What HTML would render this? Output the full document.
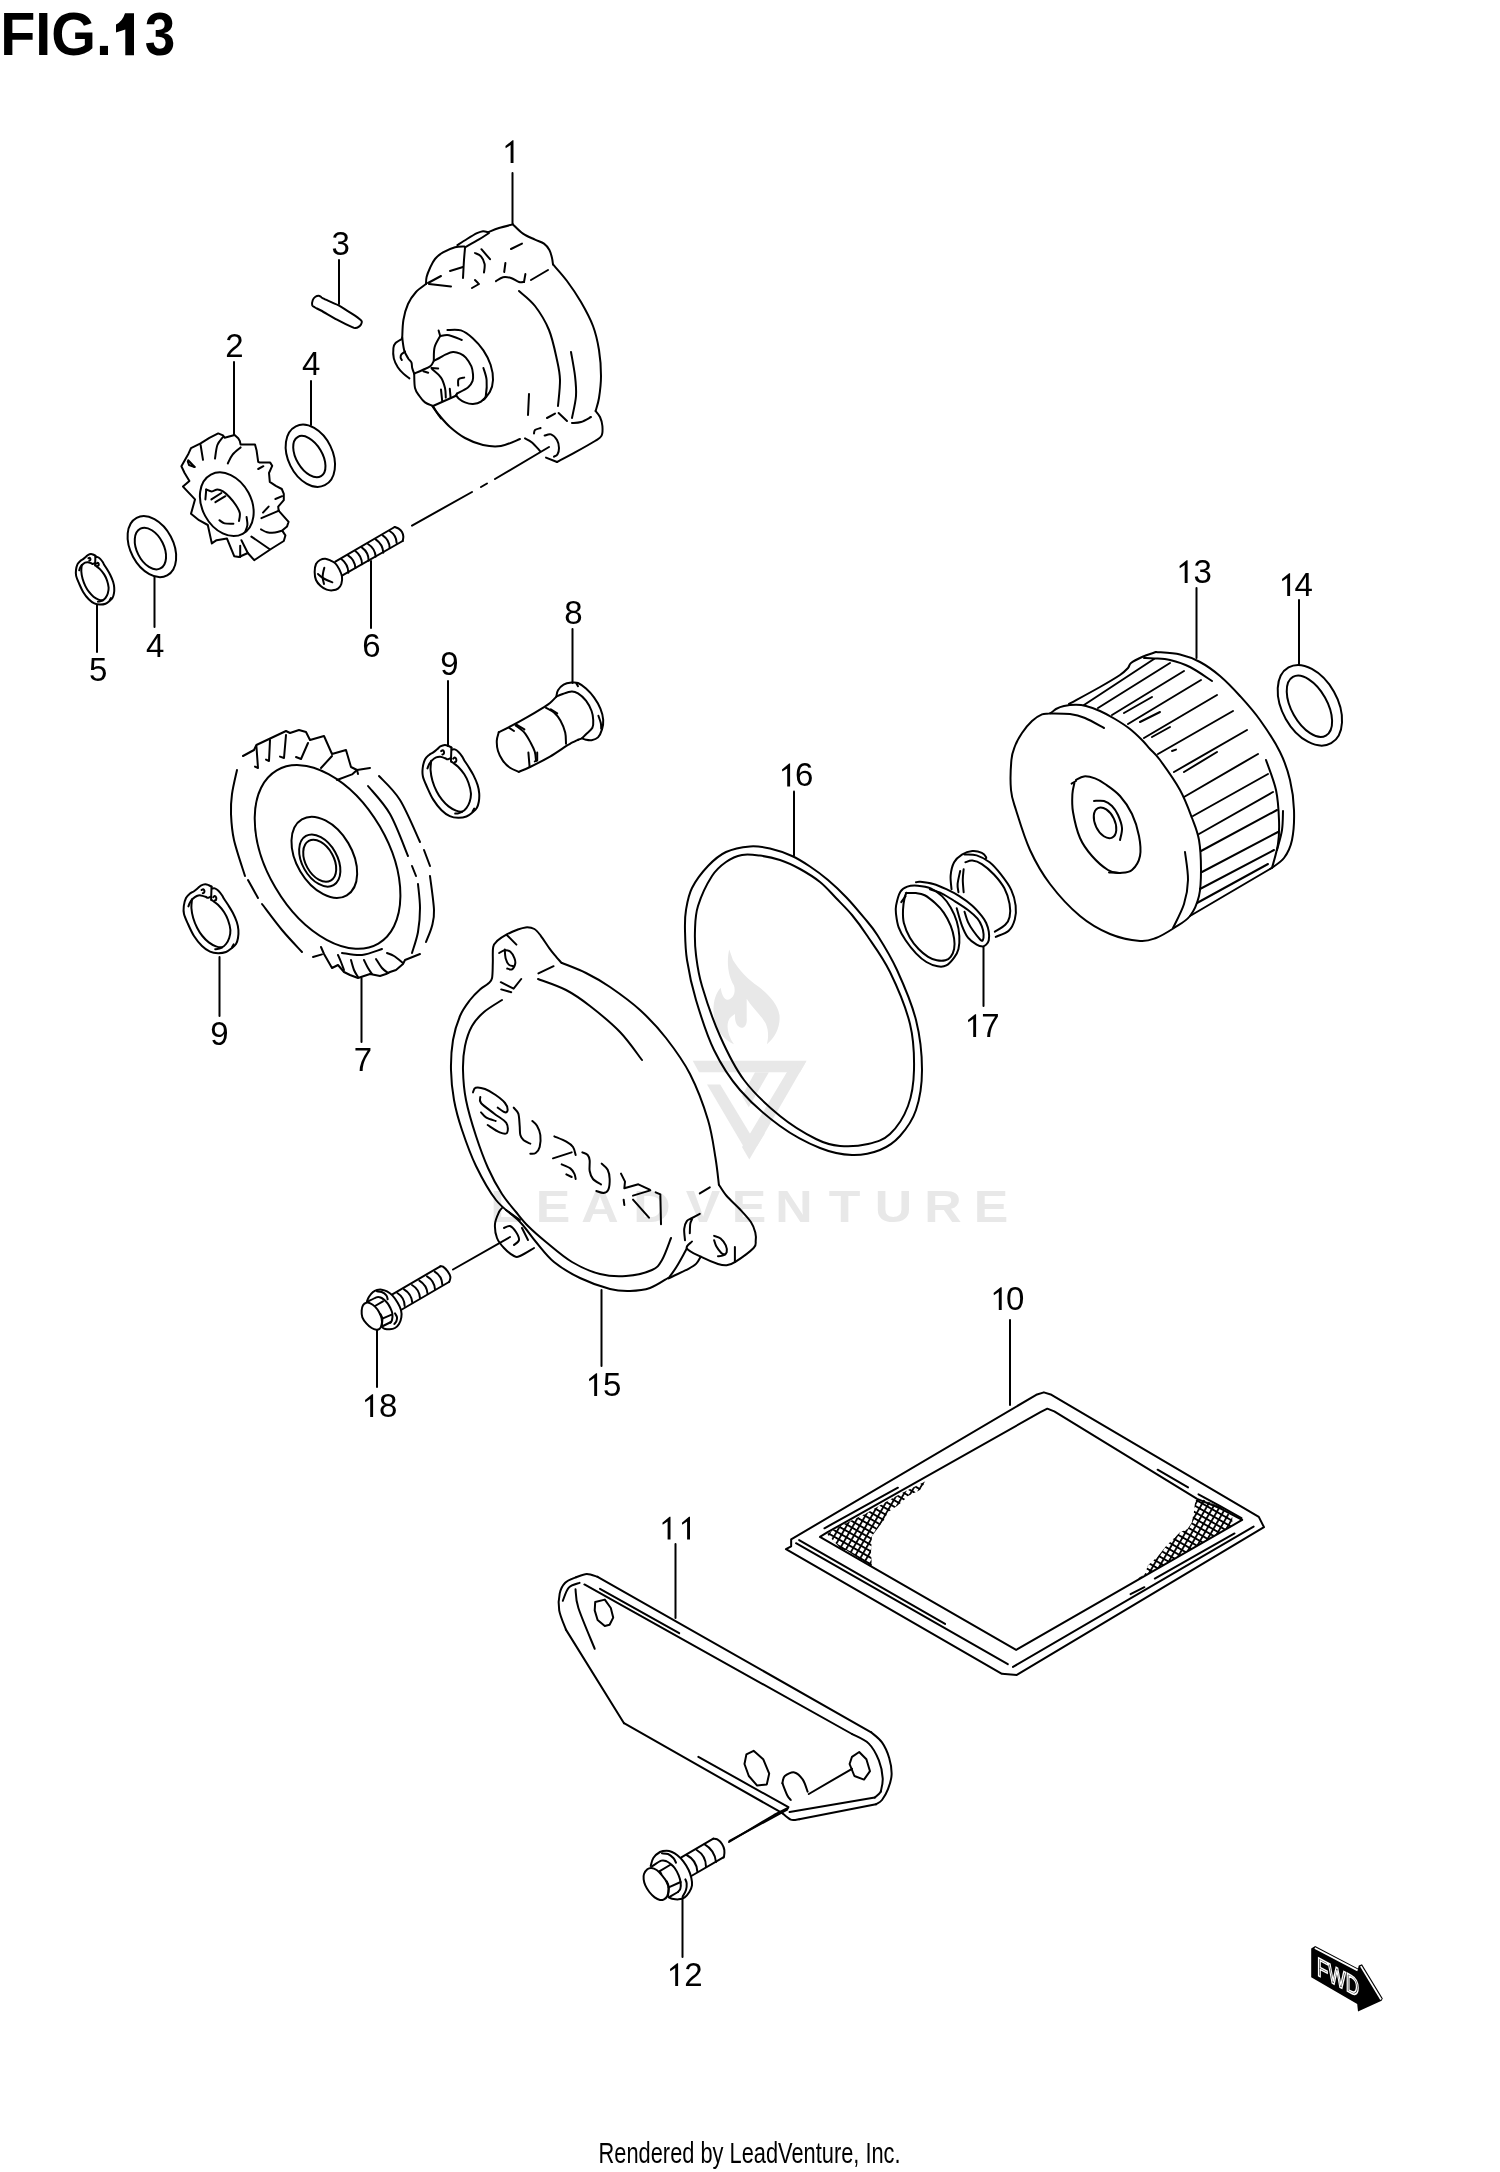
<!DOCTYPE html>
<html><head><meta charset="utf-8"><title>FIG.13</title><style>
html,body{margin:0;padding:0;background:#fff;overflow:hidden}
svg{display:block;will-change:transform}
.s path,.s ellipse,.s line{fill:none;stroke:#000;stroke-width:2;stroke-linecap:round;stroke-linejoin:round;vector-effect:non-scaling-stroke}
text{font-family:"Liberation Sans",sans-serif;fill:#000}
.lb{font-size:33px}
</style></head><body>
<svg width="1500" height="2172" viewBox="0 0 1500 2172">
<defs><pattern id="mesh" patternUnits="userSpaceOnUse" width="5.6" height="5.6" patternTransform="rotate(30)"><path d="M0,0.9H5.6M0.9,0V5.6" stroke="#000" stroke-width="1.8" fill="none"/></pattern></defs>
<rect width="1500" height="2172" fill="#fff"/>
<g transform="translate(680,940) scale(0.105854)" fill="#e8e8e8"><path d="M465,90 C440,200 450,330 510,430 C530,500 500,560 450,565 C410,560 390,500 385,450 C320,520 300,640 330,770 C360,880 430,950 510,985 C450,900 430,800 470,740 C490,720 510,705 520,700 C515,760 530,820 580,830 C620,830 635,790 630,730 L630,555 C680,640 760,700 810,790 C840,860 835,930 820,985 C900,920 950,820 940,710 C920,600 840,520 740,440 C640,370 560,290 500,190 Z"/></g><g fill="#e8e8e8"><path d="M692.7,1060.7 806.5,1060.7 800,1072.3 699,1072.3Z"/><path d="M806.5,1060.7 749.3,1159.6 742,1147 787,1072Z"/><path d="M707,1084.5 720.2,1084.5 752,1137 745,1149Z"/><path d="M755,1072.3 768.9,1072.3 748.8,1107.2 742,1096Z"/><path d="M758.3,1122.1 764.7,1133.7 757,1146 751,1135Z"/></g><text transform="scale(1.15,1)" font-size="45" font-weight="bold" style="fill:#e8e8e8" text-anchor="middle"><tspan x="440" y="1222">L</tspan><tspan x="480.9" y="1222">E</tspan><tspan x="521.7" y="1222">A</tspan><tspan x="567" y="1222">D</tspan><tspan x="611.3" y="1222">V</tspan><tspan x="651.3" y="1222">E</tspan><tspan x="690.4" y="1222">N</tspan><tspan x="734.3" y="1222">T</tspan><tspan x="777" y="1222">U</tspan><tspan x="820" y="1222">R</tspan><tspan x="861.7" y="1222">E</tspan></text>
<g class="s"><path d="M512.5,173 512.5,224"/><path d="M339,260 339,304"/><path d="M234,362 234,435"/><path d="M311,381 311,425"/><path d="M154.5,577 154.5,627"/><path d="M97,605 97,652"/><path d="M371,561 371,628"/><path d="M448,681 448,746"/><path d="M572.5,629 572.5,683"/><path d="M219.5,957 219.5,1016"/><path d="M361.5,978 361.5,1042"/><path d="M794,791.6 794,855.6"/><path d="M983.5,947 983.5,1006"/><path d="M1196.5,588 1196.5,658"/><path d="M1299,600 1299,665"/><path d="M1010,1320 1010,1405"/><path d="M601.5,1290 601.5,1366"/><path d="M377,1330 377,1387"/><path d="M675.5,1544 675.5,1618"/><path d="M682.5,1898 682.5,1957"/></g><g class="s" transform="translate(375,200) scale(0.200000)"><path d="M255,420C255.5,414.2 254.7,398.3 258,385C261.3,371.7 268,355 275,340C282,325 289.2,308 300,295C310.8,282 323.3,271.8 340,262C356.7,252.2 382.2,241 400,236C417.8,231 439.2,232.7 447,232"/><path d="M412,226C420,220.8 443.7,205 460,195C476.3,185 496.7,172.5 510,166C523.3,159.5 530.7,156.8 540,156C549.3,155.2 561.7,160.2 566,161"/><path d="M566,161C575,157.5 599.3,146.5 620,140C640.7,133.5 678.3,125 690,122"/><path d="M690,122C698.3,129.7 721.7,155.3 740,168C758.3,180.7 782.5,189.7 800,198C817.5,206.3 833,209.3 845,218C857,226.7 865.3,238 872,250C878.7,262 882,278 885,290C888,302 889.2,316.7 890,322"/><path d="M890,322C901.7,335.8 936.7,373.7 960,405C983.3,436.3 1008.3,472.5 1030,510C1051.7,547.5 1075,590 1090,630C1105,670 1113.3,708.3 1120,750C1126.7,791.7 1130,840 1130,880C1130,920 1124.5,960.8 1120,990C1115.5,1019.2 1105.8,1044.2 1103,1055"/><path d="M1103,1055C1106.7,1060 1119.3,1072.5 1125,1085C1130.7,1097.5 1135.7,1114.5 1137,1130C1138.3,1145.5 1139.2,1165.5 1133,1178C1126.8,1190.5 1122.2,1191 1100,1205C1077.8,1219 1031.7,1244.5 1000,1262C968.3,1279.5 925,1302 910,1310"/><path d="M910,1310 855,1288"/><path d="M848,1178C853.3,1177 869.7,1168.3 880,1172C890.3,1175.7 903.3,1188.7 910,1200C916.7,1211.3 919.7,1228 920,1240C920.3,1252 916.2,1264.8 912,1272C907.8,1279.2 897.8,1281.2 895,1283"/><path d="M750,1192C755.8,1195.3 772.5,1201.5 785,1212C797.5,1222.5 818.3,1247.8 825,1255"/><path d="M725,1195C709.2,1200.8 660.8,1225 630,1230C599.2,1235 570,1231.7 540,1225C510,1218.3 477.5,1205 450,1190C422.5,1175 396.7,1154.2 375,1135C353.3,1115.8 335,1092.8 320,1075C305,1057.2 290.8,1035.8 285,1028"/><path d="M255,420C246.7,426.7 220,443.3 205,460C190,476.7 175.5,496.7 165,520C154.5,543.3 146.8,571.7 142,600C137.2,628.3 137,675 136,690"/><path d="M450,236C461.7,229.5 500,208.8 520,197C540,185.2 561.7,170.3 570,165"/><path d="M450,240C449.2,250 446.7,275 445,300C443.3,325 440.8,375 440,390"/><path d="M265,415 330,380"/><path d="M375,355 440,335"/><path d="M270,420 380,432"/><path d="M485,440 520,420"/><path d="M500,400 515,415"/><path d="M500,265C505,267.8 522,272.8 530,282C538,291.2 545.5,306.7 548,320C550.5,333.3 545.5,355 545,362"/><path d="M532,246 575,296"/><path d="M680,245 735,218"/><path d="M652,315 646,360"/><path d="M605,406C610.8,402.7 627.5,388.7 640,386C652.5,383.3 666.7,386 680,390C693.3,394 709.2,406.7 720,410C730.8,413.3 740.8,410 745,410"/><path d="M745,410 752,370"/><path d="M780,400 865,350"/><path d="M720,455C733.3,467.5 775,497.5 800,530C825,562.5 851.7,605 870,650C888.3,695 900.8,758.3 910,800C919.2,841.7 924.2,861.7 925,900C925.8,938.3 916.7,1008.3 915,1030"/><path d="M980,760C983.3,780 995.8,843.3 1000,880C1004.2,916.7 1007.5,945 1005,980C1002.5,1015 988.3,1071.7 985,1090"/><path d="M770,970 765,1075"/><path d="M860,1090 900,1068"/><path d="M918,1065 960,1105"/><path d="M985,1115C992.5,1114.2 1014.2,1115 1030,1110C1045.8,1105 1071.7,1089.2 1080,1085"/><path d="M795,1168C795.8,1165 794.5,1154.7 800,1150C805.5,1145.3 823.3,1141.7 828,1140"/></g><g class="s" transform="translate(385,320) scale(0.080000)"><path d="M215,220C219.2,246.7 227.5,336.7 240,380C252.5,423.3 275,455 290,480C305,505 321.7,510 330,530C338.3,550 334.2,576.7 340,600C345.8,623.3 360.8,658.3 365,670"/><path d="M215,235C200.8,244.2 148.3,270.8 130,290C111.7,309.2 108.3,318.3 105,350C101.7,381.7 100.8,440 110,480C119.2,520 140,558.3 160,590C180,621.7 205.8,646.7 230,670C254.2,693.3 292.5,720 305,730"/><path d="M250,395C242.5,400.8 214.2,417.5 205,430C195.8,442.5 194.2,458.3 195,470C195.8,481.7 207.5,495 210,500"/><path d="M365,670C366.7,700 364.2,803.3 375,850C385.8,896.7 409.2,920 430,950C450.8,980 471.7,1009.2 500,1030C528.3,1050.8 583.3,1067.5 600,1075"/><path d="M365,670C382.5,662.5 435.8,640.8 470,625C504.2,609.2 546.7,594.2 570,575C593.3,555.8 603.3,520.8 610,510"/><path d="M610,510C621.7,504.2 655,488.3 680,475C705,461.7 731.7,442.5 760,430C788.3,417.5 820,401.7 850,400C880,398.3 913.3,408.3 940,420C966.7,431.7 986.7,443.3 1010,470C1033.3,496.7 1065,545 1080,580C1095,615 1097.5,650 1100,680C1102.5,710 1105,733.3 1095,760C1085,786.7 1072.5,813.3 1040,840C1007.5,866.7 923.3,906.7 900,920"/><path d="M900,920L880,950"/><path d="M600,1075 880,950"/><path d="M580,600 665,605"/><path d="M590,615C608.3,632.5 673.3,680.8 700,720C726.7,759.2 740,808.3 750,850C760,891.7 758.3,950 760,970"/><path d="M480,640 540,660"/><path d="M780,125C808.3,125.8 896.7,112.5 950,130C1003.3,147.5 1053.3,188.3 1100,230C1146.7,271.7 1193.3,325 1230,380C1266.7,435 1300,498.3 1320,560C1340,621.7 1351.7,693.3 1350,750C1348.3,806.7 1335,855 1310,900C1285,945 1235,995 1200,1020C1165,1045 1133.3,1048.3 1100,1050C1066.7,1051.7 1030,1041.7 1000,1030C970,1018.3 938.3,995 920,980C901.7,965 895,946.7 890,940"/><path d="M670,130L690,200"/><path d="M690,200C708.3,198.3 755,181.7 800,190C845,198.3 933.3,240 960,250"/><path d="M690,200C678.3,223.3 633.3,290 620,340C606.7,390 611.7,473.3 610,500"/><path d="M1230,600C1236.7,625 1265,691.7 1270,750C1275,808.3 1266.7,908.3 1260,950C1253.3,991.7 1235,991.7 1230,1000"/><path d="M700,870 715,1010"/><path d="M810,860 820,970"/><path d="M915,820C915.8,806.7 907.5,756.7 920,740C932.5,723.3 978.3,723.3 990,720"/><path d="M600,1075C608.3,1089.2 633.3,1134.2 650,1160C666.7,1185.8 691.7,1218.3 700,1230"/></g><g class="s"><path d="M412,525.6 472,492"/><path d="M481,487 487,483.5"/><path d="M495,479 549,447"/></g><g class="s"><path d="M312.2,305.2C311.8,303.9 312.3,301.4 312.8,300C313.3,298.6 314.4,297.5 315.4,296.8C316.4,296.1 317.7,295.8 318.6,295.8C319.5,295.8 320.3,296.4 321,296.8C321.7,297.2 320.1,297 323,298.4C325.9,299.8 334.1,303.1 338.2,305.2C342.3,307.3 344.6,309.1 347.4,310.8C350.2,312.5 352.9,314.2 355,315.6C357.1,317 358.7,318.2 359.8,319.2C360.9,320.2 361.6,320.6 361.8,321.5C362,322.4 361.5,323.5 361,324.4C360.5,325.3 359.5,326.2 358.6,326.8C357.7,327.4 356.5,327.9 355.4,328C354.3,328.1 355.3,328.6 352.2,327.2C349.1,325.8 342.2,322.4 337,319.6C331.8,316.8 324.7,312.5 321,310.5C317.3,308.5 316.5,308.4 315,307.5C313.5,306.6 312.6,306.4 312.2,305.2Z"/></g><g class="s" transform="translate(175,425) scale(0.080000)"><path d="M80,515 170,355 200,290 320,230 430,160 540,105 600,130 620,160 745,125 790,165 810,200 820,245 1000,245 1020,320 1040,460 1060,470 1190,470 1215,510 1175,600 1185,710 1260,760 1335,800 1360,860 1360,940 1290,1020 1295,1070 1420,1210 1400,1270 1340,1320 1380,1380 1360,1450 1200,1550 990,1690 910,1600 800,1650 740,1640 650,1420 520,1440 460,1480 410,1250 300,1190 200,1110 250,930 100,770 180,700 120,600Z"/><path d="M165,440 245,525"/><path d="M160,455 175,500 245,525"/><path d="M320,250 350,435"/><path d="M600,150C588.3,166.7 546.7,205 530,250C513.3,295 505,391.7 500,420"/><path d="M820,280C803.3,295 746.7,336.7 720,370C693.3,403.3 670,461.7 660,480"/><path d="M1040,550 1105,515"/><path d="M1255,925 1340,890"/><path d="M1100,1095 1170,1020"/><path d="M1080,1165 1300,1070"/><path d="M1075,1305C1087.5,1310.8 1120.8,1333.3 1150,1340C1179.2,1346.7 1218.3,1348.3 1250,1345C1281.7,1341.7 1325,1324.2 1340,1320"/><path d="M955,1395 1180,1550"/><path d="M830,1440 910,1600"/><path d="M815,1510 815,1650"/><ellipse cx="647.3" cy="990.3" rx="307.2" ry="419.9" transform="rotate(-28.3 647.3 990.3)"/><path d="M390,805C401.7,809.2 436.7,830 460,830C483.3,830 506.7,805 530,805C553.3,805 575,814.2 600,830C625,845.8 653.3,871.7 680,900C706.7,928.3 738.3,966.7 760,1000C781.7,1033.3 803.3,1066.7 810,1100C816.7,1133.3 801.7,1183.3 800,1200"/><path d="M555,1190C565.8,1196.7 590.8,1222.5 620,1230C649.2,1237.5 711.7,1234.2 730,1235"/><path d="M390,810 380,930"/><path d="M455,930 580,850"/><path d="M505,965 630,890"/><path d="M895,1150C896.7,1166.7 907.5,1220 905,1250C902.5,1280 884.2,1316.7 880,1330"/></g><g class="s" transform="translate(60,320) scale(0.200000)"><ellipse cx="1251.7" cy="678.7" rx="164.2" ry="111.3" transform="rotate(63.8 1251.7 678.7)"/><ellipse cx="1246.7" cy="683" rx="114.1" ry="64.6" transform="rotate(59.1 1246.7 683)"/><ellipse cx="459.4" cy="1133.2" rx="162.8" ry="107" transform="rotate(62 459.4 1133.2)"/><ellipse cx="452" cy="1143" rx="111.2" ry="67.5" transform="rotate(63.3 452 1143)"/></g><g class="s" transform="translate(310,520) scale(0.066667)"><path d="M70,780C70,740 76.7,690 90,660C103.3,630 126.7,613.3 150,600C173.3,586.7 203.3,578.3 230,580C256.7,581.7 285,598.3 310,610C335,621.7 358.3,628.3 380,650C401.7,671.7 423.3,706.7 440,740C456.7,773.3 475,813.3 480,850C485,886.7 480,930 470,960C460,990 441.7,1014.2 420,1030C398.3,1045.8 368.3,1052.5 340,1055C311.7,1057.5 280,1055.8 250,1045C220,1034.2 186.7,1014.2 160,990C133.3,965.8 105,935 90,900C75,865 70,820 70,780Z"/><path d="M380,625 1270,105"/><path d="M480,835 1390,315"/><path d="M1270,105C1280,109.2 1311.7,117.5 1330,130C1348.3,142.5 1368.3,160 1380,180C1391.7,200 1398.3,227.5 1400,250C1401.7,272.5 1391.7,304.2 1390,315"/><path d="M215,715C211.7,729.2 199.2,774.2 195,800C190.8,825.8 187.5,843.3 190,870C192.5,896.7 206.7,945 210,960"/><path d="M120,810C130,818.3 158.3,845 180,860C201.7,875 224.2,887.5 250,900C275.8,912.5 320.8,929.2 335,935"/><path d="M470,585Q572.3,662 575,790"/><path d="M570,530Q673.5,596.9 680,720"/><path d="M680,465Q780.1,540 780,665"/><path d="M780,415Q879.8,486.9 880,610"/><path d="M870,360Q975.4,426 985,550"/><path d="M985,290Q1091,362.1 1100,490"/><path d="M1090,230Q1191.5,297.9 1195,420"/><path d="M1195,165Q1295.9,226.8 1300,345"/></g><g class="s" transform="translate(490,675) scale(0.080000)"><path d="M830,265C833.3,252.5 835,214.2 850,190C865,165.8 891.7,135.8 920,120C948.3,104.2 990,98.3 1020,95C1050,91.7 1070,87.5 1100,100C1130,112.5 1166.7,140 1200,170C1233.3,200 1270,238.3 1300,280C1330,321.7 1360.8,373.3 1380,420C1399.2,466.7 1411.7,516.7 1415,560C1418.3,603.3 1410.8,643.3 1400,680C1389.2,716.7 1371.7,757.5 1350,780C1328.3,802.5 1295,810 1270,815C1245,820 1220,814.2 1200,810C1180,805.8 1158.3,793.3 1150,790"/><path d="M1080,105 1100,140"/><path d="M1355,510C1360,525 1379.2,573.3 1385,600C1390.8,626.7 1389.2,658.3 1390,670"/><path d="M830,270C841.7,265 868.3,250.8 900,240C931.7,229.2 986.7,206.7 1020,205C1053.3,203.3 1070,210.8 1100,230C1130,249.2 1171.7,283.3 1200,320C1228.3,356.7 1255,410 1270,450C1285,490 1288.3,525 1290,560C1291.7,595 1295,630 1280,660C1265,690 1221.7,718.3 1200,740C1178.3,761.7 1166.7,778.3 1150,790C1133.3,801.7 1108.3,806.7 1100,810"/><path d="M110,715C135,702.5 201.7,670.8 260,640C318.3,609.2 393.3,568.3 460,530C526.7,491.7 611.7,440 660,410C708.3,380 721.7,373.3 750,350C778.3,326.7 816.7,283.3 830,270"/><path d="M360,1210C383.3,1200 435,1181.7 500,1150C565,1118.3 675,1063.3 750,1020C825,976.7 908.3,916.7 950,890C991.7,863.3 975,873.3 1000,860C1025,846.7 1083.3,818.3 1100,810"/><path d="M110,715C105.8,732.5 86.7,780.8 85,820C83.3,859.2 87.5,908.3 100,950C112.5,991.7 135,1035 160,1070C185,1105 216.7,1136.7 250,1160C283.3,1183.3 341.7,1201.7 360,1210"/><path d="M700,410C716.7,420 770,443.3 800,470C830,496.7 856.7,528.3 880,570C903.3,611.7 928.3,671.7 940,720C951.7,768.3 948.3,836.7 950,860"/><path d="M320,630C338.3,645 398.3,683.3 430,720C461.7,756.7 488.3,810 510,850C531.7,890 549.2,923.3 560,960C570.8,996.7 572.5,1051.7 575,1070"/><path d="M760,430 840,480"/><path d="M240,660 300,700"/><path d="M330,620 430,680"/><path d="M480,970 495,1150"/><path d="M590,970 590,1070 560,1080"/></g><g class="s" transform="translate(170,710) scale(0.200000)"><ellipse cx="787.8" cy="734.9" rx="502.1" ry="302.5" transform="rotate(59.6 787.8 734.9)"/><path d="M335,300C330.8,320 315,383.3 310,420C305,456.7 303.3,481.7 305,520C306.7,558.3 308.3,598.3 320,650C331.7,701.7 365.8,800 375,830"/><path d="M390,850 440,940"/><path d="M460,970C476.7,991.7 526.7,1060 560,1100C593.3,1140 643.3,1191.7 660,1210"/><path d="M1045,330C1062.5,350 1115.8,395 1150,450C1184.2,505 1233.3,625 1250,660"/><path d="M1270,700 1300,780"/><path d="M1300,830C1303.3,858.3 1318.3,958.3 1320,1000C1321.7,1041.7 1316.7,1053.3 1310,1080C1303.3,1106.7 1285,1146.7 1280,1160"/><path d="M990,380C1008.3,403.3 1066.7,461.7 1100,520C1133.3,578.3 1175,695 1190,730"/><path d="M1210,780 1230,830"/><path d="M1240,870C1241.7,890 1250,950 1250,990C1250,1030 1246.7,1072.5 1240,1110C1233.3,1147.5 1215,1197.5 1210,1215"/><path d="M365,230 420,200 432,175 580,105 600,115 645,100 680,110 700,150 770,130 810,220 880,200 905,285 935,300 1000,290"/><path d="M432,180 440,290 425,283"/><path d="M500,150 495,255 480,248"/><path d="M580,125 570,240 550,233"/><path d="M690,165 655,245 630,235"/><path d="M755,290 810,230"/><path d="M835,350 910,322 935,300"/><path d="M935,300 940,320"/><path d="M715,1235 760,1222"/><path d="M755,1185 770,1220 810,1290 840,1275 870,1310 900,1325 940,1340 1000,1320 1050,1330 1080,1320 1100,1310 1130,1300 1165,1270 1175,1250 1250,1220"/><path d="M840,1225C842.5,1230.8 850,1247.5 855,1260C860,1272.5 867.5,1293.3 870,1300"/><path d="M905,1250C907.5,1258.3 914.2,1285.8 920,1300C925.8,1314.2 936.7,1329.2 940,1335"/><path d="M970,1250C973.3,1256.7 983.3,1278.3 990,1290C996.7,1301.7 1006.7,1315 1010,1320"/><path d="M1030,1245C1035,1252.5 1050,1278.3 1060,1290C1070,1301.7 1085,1310.8 1090,1315"/><path d="M1085,1215C1090.8,1217.5 1106.7,1221.7 1120,1230C1133.3,1238.3 1157.5,1259.2 1165,1265"/><path d="M860,1215C876.7,1216.7 926.7,1228.3 960,1225C993.3,1221.7 1043.3,1200 1060,1195"/><ellipse cx="771.6" cy="736.5" rx="220.6" ry="139.3" transform="rotate(59.4 771.6 736.5)"/><ellipse cx="748.8" cy="752.6" rx="140.9" ry="88" transform="rotate(60.7 748.8 752.6)"/><ellipse cx="748.6" cy="754.1" rx="113.2" ry="70.5" transform="rotate(61.1 748.6 754.1)"/></g><g class="s" transform="translate(180,880) scale(0.040000)"><path d="M790,165C778.3,159.2 746.7,140 720,130C693.3,120 663.3,103.3 630,105C596.7,106.7 550,124.2 520,140C490,155.8 478.3,176.7 450,200C421.7,223.3 383.3,256.7 350,280C316.7,303.3 283.3,311.7 250,340C216.7,368.3 175.8,398.3 150,450C124.2,501.7 103.3,583.3 95,650C86.7,716.7 82.5,775 100,850C117.5,925 158.3,1008.3 200,1100C241.7,1191.7 291.7,1308.3 350,1400C408.3,1491.7 483.3,1585 550,1650C616.7,1715 683.3,1760 750,1790C816.7,1820 883.3,1828.3 950,1830C1016.7,1831.7 1091.7,1821.7 1150,1800C1208.3,1778.3 1258.3,1733.3 1300,1700C1341.7,1666.7 1375,1641.7 1400,1600C1425,1558.3 1440,1508.3 1450,1450C1460,1391.7 1465,1316.7 1460,1250C1455,1183.3 1443.3,1121.7 1420,1050C1396.7,978.3 1356.7,891.7 1320,820C1283.3,748.3 1236.7,678.3 1200,620C1163.3,561.7 1125,510 1100,470C1075,430 1073.3,413.3 1050,380C1026.7,346.7 990,298.3 960,270C930,241.7 896.7,219.2 870,210C843.3,200.8 811.7,214.2 800,215"/><path d="M788,165 778,480"/><path d="M210,660C216.7,643.3 231.7,591.7 250,560C268.3,528.3 291.7,496.7 320,470C348.3,443.3 386.7,414.2 420,400C453.3,385.8 483.3,381.7 520,385C556.7,388.3 611.7,410 640,420C668.3,430 670,445 690,445C710,445 748.3,424.2 760,420"/><path d="M300,480C297.5,516.7 280,621.7 285,700C290,778.3 305.8,866.7 330,950C354.2,1033.3 391.7,1125 430,1200C468.3,1275 511.7,1340 560,1400C608.3,1460 663.3,1516.7 720,1560C776.7,1603.3 845,1640 900,1660C955,1680 1008.3,1690 1050,1680C1091.7,1670 1120,1638.3 1150,1600C1180,1561.7 1211.7,1508.3 1230,1450C1248.3,1391.7 1265,1325 1260,1250C1255,1175 1226.7,1075 1200,1000C1173.3,925 1141.7,863.3 1100,800C1058.3,736.7 996.7,666.7 950,620C903.3,573.3 848.3,540 820,520C791.7,500 786.7,503.3 780,500"/><path d="M880,1730C893.3,1728.3 931.7,1726.7 960,1720C988.3,1713.3 1035,1695 1050,1690"/><path d="M1340,1610 1300,1680"/><path d="M540,250C546.7,246.7 568.3,226.7 580,230C591.7,233.3 606.7,255 610,270C613.3,285 606.7,310 600,320C593.3,330 575,328.3 570,330"/><path d="M830,430C836.7,425 857.5,398.3 870,400C882.5,401.7 900,423.3 905,440C910,456.7 905.8,488.3 900,500C894.2,511.7 875,508.3 870,510"/></g><g transform="translate(422.7,745) scale(1.035,1.055) translate(-183.8,-884.2)"><g class="s" transform="translate(180,880) scale(0.040000)"><path d="M790,165C778.3,159.2 746.7,140 720,130C693.3,120 663.3,103.3 630,105C596.7,106.7 550,124.2 520,140C490,155.8 478.3,176.7 450,200C421.7,223.3 383.3,256.7 350,280C316.7,303.3 283.3,311.7 250,340C216.7,368.3 175.8,398.3 150,450C124.2,501.7 103.3,583.3 95,650C86.7,716.7 82.5,775 100,850C117.5,925 158.3,1008.3 200,1100C241.7,1191.7 291.7,1308.3 350,1400C408.3,1491.7 483.3,1585 550,1650C616.7,1715 683.3,1760 750,1790C816.7,1820 883.3,1828.3 950,1830C1016.7,1831.7 1091.7,1821.7 1150,1800C1208.3,1778.3 1258.3,1733.3 1300,1700C1341.7,1666.7 1375,1641.7 1400,1600C1425,1558.3 1440,1508.3 1450,1450C1460,1391.7 1465,1316.7 1460,1250C1455,1183.3 1443.3,1121.7 1420,1050C1396.7,978.3 1356.7,891.7 1320,820C1283.3,748.3 1236.7,678.3 1200,620C1163.3,561.7 1125,510 1100,470C1075,430 1073.3,413.3 1050,380C1026.7,346.7 990,298.3 960,270C930,241.7 896.7,219.2 870,210C843.3,200.8 811.7,214.2 800,215"/><path d="M788,165 778,480"/><path d="M210,660C216.7,643.3 231.7,591.7 250,560C268.3,528.3 291.7,496.7 320,470C348.3,443.3 386.7,414.2 420,400C453.3,385.8 483.3,381.7 520,385C556.7,388.3 611.7,410 640,420C668.3,430 670,445 690,445C710,445 748.3,424.2 760,420"/><path d="M300,480C297.5,516.7 280,621.7 285,700C290,778.3 305.8,866.7 330,950C354.2,1033.3 391.7,1125 430,1200C468.3,1275 511.7,1340 560,1400C608.3,1460 663.3,1516.7 720,1560C776.7,1603.3 845,1640 900,1660C955,1680 1008.3,1690 1050,1680C1091.7,1670 1120,1638.3 1150,1600C1180,1561.7 1211.7,1508.3 1230,1450C1248.3,1391.7 1265,1325 1260,1250C1255,1175 1226.7,1075 1200,1000C1173.3,925 1141.7,863.3 1100,800C1058.3,736.7 996.7,666.7 950,620C903.3,573.3 848.3,540 820,520C791.7,500 786.7,503.3 780,500"/><path d="M880,1730C893.3,1728.3 931.7,1726.7 960,1720C988.3,1713.3 1035,1695 1050,1690"/><path d="M1340,1610 1300,1680"/><path d="M540,250C546.7,246.7 568.3,226.7 580,230C591.7,233.3 606.7,255 610,270C613.3,285 606.7,310 600,320C593.3,330 575,328.3 570,330"/><path d="M830,430C836.7,425 857.5,398.3 870,400C882.5,401.7 900,423.3 905,440C910,456.7 905.8,488.3 900,500C894.2,511.7 875,508.3 870,510"/></g></g><g transform="translate(76,554) scale(0.70,0.733) translate(-183.8,-884.2)"><g class="s" transform="translate(180,880) scale(0.040000)"><path d="M790,165C778.3,159.2 746.7,140 720,130C693.3,120 663.3,103.3 630,105C596.7,106.7 550,124.2 520,140C490,155.8 478.3,176.7 450,200C421.7,223.3 383.3,256.7 350,280C316.7,303.3 283.3,311.7 250,340C216.7,368.3 175.8,398.3 150,450C124.2,501.7 103.3,583.3 95,650C86.7,716.7 82.5,775 100,850C117.5,925 158.3,1008.3 200,1100C241.7,1191.7 291.7,1308.3 350,1400C408.3,1491.7 483.3,1585 550,1650C616.7,1715 683.3,1760 750,1790C816.7,1820 883.3,1828.3 950,1830C1016.7,1831.7 1091.7,1821.7 1150,1800C1208.3,1778.3 1258.3,1733.3 1300,1700C1341.7,1666.7 1375,1641.7 1400,1600C1425,1558.3 1440,1508.3 1450,1450C1460,1391.7 1465,1316.7 1460,1250C1455,1183.3 1443.3,1121.7 1420,1050C1396.7,978.3 1356.7,891.7 1320,820C1283.3,748.3 1236.7,678.3 1200,620C1163.3,561.7 1125,510 1100,470C1075,430 1073.3,413.3 1050,380C1026.7,346.7 990,298.3 960,270C930,241.7 896.7,219.2 870,210C843.3,200.8 811.7,214.2 800,215"/><path d="M788,165 778,480"/><path d="M210,660C216.7,643.3 231.7,591.7 250,560C268.3,528.3 291.7,496.7 320,470C348.3,443.3 386.7,414.2 420,400C453.3,385.8 483.3,381.7 520,385C556.7,388.3 611.7,410 640,420C668.3,430 670,445 690,445C710,445 748.3,424.2 760,420"/><path d="M300,480C297.5,516.7 280,621.7 285,700C290,778.3 305.8,866.7 330,950C354.2,1033.3 391.7,1125 430,1200C468.3,1275 511.7,1340 560,1400C608.3,1460 663.3,1516.7 720,1560C776.7,1603.3 845,1640 900,1660C955,1680 1008.3,1690 1050,1680C1091.7,1670 1120,1638.3 1150,1600C1180,1561.7 1211.7,1508.3 1230,1450C1248.3,1391.7 1265,1325 1260,1250C1255,1175 1226.7,1075 1200,1000C1173.3,925 1141.7,863.3 1100,800C1058.3,736.7 996.7,666.7 950,620C903.3,573.3 848.3,540 820,520C791.7,500 786.7,503.3 780,500"/><path d="M880,1730C893.3,1728.3 931.7,1726.7 960,1720C988.3,1713.3 1035,1695 1050,1690"/><path d="M1340,1610 1300,1680"/><path d="M540,250C546.7,246.7 568.3,226.7 580,230C591.7,233.3 606.7,255 610,270C613.3,285 606.7,310 600,320C593.3,330 575,328.3 570,330"/><path d="M830,430C836.7,425 857.5,398.3 870,400C882.5,401.7 900,423.3 905,440C910,456.7 905.8,488.3 900,500C894.2,511.7 875,508.3 870,510"/></g></g><g class="s"><path d="M750,846.4C757.3,845.8 763,846.9 770,848.5C777,850.1 785.3,853 792,856C798.7,859 804,862.5 810,866.5C816,870.5 821.9,874.8 828,880C834.1,885.2 840.7,891.4 846.7,897.7C852.7,904 858.9,911.5 864,917.7C869.1,923.9 871.8,926.3 877.3,935C882.8,943.7 890.5,955.8 897,970C903.5,984.2 911.8,1003.3 916,1020C920.2,1036.7 922,1055 922,1070C922,1085 919.7,1099 916,1110C912.3,1121 906,1129.3 900,1136C894,1142.7 888,1146.8 880,1150C872,1153.2 862,1155.3 852,1155C842,1154.7 832,1152.8 820,1148C808,1143.2 793.3,1135.7 780,1126C766.7,1116.3 751,1102.7 740,1090C729,1077.3 721.3,1065 714,1050C706.7,1035 700.5,1015 696,1000C691.5,985 688.8,971.7 687,960C685.2,948.3 685.2,938.3 685,930C684.8,921.7 684.8,917 686,910C687.2,903 688.3,895.3 692,888C695.7,880.7 702.3,872 708,866C713.7,860 719,855.3 726,852C733,848.7 742.7,847 750,846.4Z"/><path d="M742,855C747.7,853.9 753.7,854.8 760,855.6C766.3,856.4 773.3,857.8 780,860C786.7,862.2 793.3,865.3 800,869C806.7,872.7 814,877.2 820,882C826,886.8 830.7,892.5 836,898C841.3,903.5 846.9,908.8 852,915C857.1,921.2 860.4,925.5 866.7,935C873,944.5 882.8,957.2 890,972C897.2,986.8 906,1007.7 910,1024C914,1040.3 914.3,1056.3 914,1070C913.7,1083.7 912,1095.3 908,1106C904,1116.7 896.7,1127.7 890,1134C883.3,1140.3 876.3,1142 868,1144C859.7,1146 848.7,1146.8 840,1146C831.3,1145.2 826,1144 816,1139C806,1134 792,1125.8 780,1116C768,1106.2 754,1093.3 744,1080C734,1066.7 727,1051.7 720,1036C713,1020.3 706,999.5 702,986C698,972.5 697.2,964.3 696,955C694.8,945.7 694.7,938.2 695,930C695.3,921.8 695.2,915 698,906C700.8,897 707.3,883.3 712,876C716.7,868.7 721,865.5 726,862C731,858.5 736.3,856.1 742,855Z"/></g><g class="s" transform="translate(890,845) scale(0.086655)"><path d="M70,700C78.3,656.7 98.3,576.7 120,540C141.7,503.3 166.7,491.7 200,480C233.3,468.3 275,466.7 320,470C365,473.3 423.3,480 470,500C516.7,520 561.7,553.3 600,590C638.3,626.7 671.7,671.7 700,720C728.3,768.3 753.3,825 770,880C786.7,935 796.7,996.7 800,1050C803.3,1103.3 800,1158.3 790,1200C780,1241.7 763.3,1268.3 740,1300C716.7,1331.7 681.7,1373.3 650,1390C618.3,1406.7 588.3,1406.7 550,1400C511.7,1393.3 461.7,1375 420,1350C378.3,1325 340,1291.7 300,1250C260,1208.3 213.3,1150 180,1100C146.7,1050 118.3,1000 100,950C81.7,900 75,841.7 70,800C65,758.3 61.7,743.3 70,700Z"/><path d="M130,660L180,590"/><path d="M190,555C208.3,555 265,550.8 300,555C335,559.2 363.3,560.8 400,580C436.7,599.2 483.3,636.7 520,670C556.7,703.3 590,736.7 620,780C650,823.3 680,880 700,930C720,980 733.3,1035 740,1080C746.7,1125 746.7,1165 740,1200C733.3,1235 716.7,1268.3 700,1290C683.3,1311.7 666.7,1323.3 640,1330C613.3,1336.7 573.3,1336.7 540,1330C506.7,1323.3 475,1311.7 440,1290C405,1268.3 365,1236.7 330,1200C295,1163.3 258.3,1120 230,1070C201.7,1020 173.3,953.3 160,900C146.7,846.7 148.3,800 150,750C151.7,700 163.3,632.5 170,600C176.7,567.5 186.7,562.5 190,555C193.3,547.5 171.7,555 190,555Z"/><path d="M300,430C308.3,429.2 316.7,421.7 350,425C383.3,428.3 450,435.8 500,450C550,464.2 600,486.7 650,510C700,533.3 750,558.3 800,590C850,621.7 906.7,661.7 950,700C993.3,738.3 1033.3,786.7 1060,820C1086.7,853.3 1096.7,870 1110,900C1123.3,930 1135,966.7 1140,1000C1145,1033.3 1145,1075 1140,1100C1135,1125 1121.7,1138.3 1110,1150C1098.3,1161.7 1088.3,1170 1070,1170C1051.7,1170 1028.3,1166.7 1000,1150C971.7,1133.3 928.3,1106.7 900,1070C871.7,1033.3 851.7,986.7 830,930C808.3,873.3 780,763.3 770,730"/><path d="M460,510C483.3,518.3 551.7,536.7 600,560C648.3,583.3 700,618.3 750,650C800,681.7 856.7,716.7 900,750C943.3,783.3 983.3,818.3 1010,850C1036.7,881.7 1048.3,910 1060,940C1071.7,970 1078.3,1003.3 1080,1030C1081.7,1056.7 1076.7,1090 1070,1100C1063.3,1110 1058.3,1108.3 1040,1090C1021.7,1071.7 983.3,1023.3 960,990C936.7,956.7 916.7,926.7 900,890C883.3,853.3 866.7,790 860,770"/><path d="M710,510C708.3,483.3 695,401.7 700,350C705,298.3 718.3,240 740,200C761.7,160 795,131.7 830,110C865,88.3 911.7,73.3 950,70C988.3,66.7 1033.3,78.3 1060,90C1086.7,101.7 1103.3,128.3 1110,140C1116.7,151.7 1101.7,156.7 1100,160"/><path d="M860,110C883.3,111.7 951.7,105 1000,120C1048.3,135 1103.3,163.3 1150,200C1196.7,236.7 1238.3,286.7 1280,340C1321.7,393.3 1371.7,460 1400,520C1428.3,580 1443.3,643.3 1450,700C1456.7,756.7 1453.3,811.7 1440,860C1426.7,908.3 1406.7,956.7 1370,990C1333.3,1023.3 1245,1048.3 1220,1060"/><path d="M870,200C883.3,196.7 918.3,176.7 950,180C981.7,183.3 1018.3,193.3 1060,220C1101.7,246.7 1156.7,293.3 1200,340C1243.3,386.7 1290,443.3 1320,500C1350,556.7 1370,625 1380,680C1390,735 1388.3,790 1380,830C1371.7,870 1358.3,891.7 1330,920C1301.7,948.3 1230,986.7 1210,1000"/><path d="M790,545C788.3,529.2 776.7,490.8 780,450C783.3,409.2 805,325 810,300"/><path d="M850,545C848.3,520.8 840,444.2 840,400C840,355.8 848.3,300 850,280"/></g><g class="s" transform="translate(1000,620) scale(0.200000)"><path d="M250,467C238.3,471.5 225,465.7 210,472C195,478.3 176.7,489.5 160,505C143.3,520.5 124.2,544.2 110,565C95.8,585.8 83.8,607.5 75,630C66.2,652.5 60.3,663.3 57,700C53.7,736.7 51.2,808.3 55,850C58.8,891.7 64.2,900 80,950C95.8,1000 121.7,1088.3 150,1150C178.3,1211.7 208.3,1265 250,1320C291.7,1375 350,1438.3 400,1480C450,1521.7 500,1549.2 550,1570C600,1590.8 661.7,1601.7 700,1605C738.3,1608.3 751.7,1600.8 780,1590C808.3,1579.2 841.7,1558.3 870,1540C898.3,1521.7 929.2,1506.7 950,1480C970.8,1453.3 985.8,1418.3 995,1380C1004.2,1341.7 1005,1296.7 1005,1250C1005,1203.3 1002.5,1143.3 995,1100C987.5,1056.7 975.8,1031.7 960,990C944.2,948.3 926.7,898.3 900,850C873.3,801.7 825,734.2 800,700C775,665.8 765,661.7 750,645C735,628.3 726.7,616.7 710,600C693.3,583.3 672.5,562.5 650,545C627.5,527.5 600,510 575,495C550,480 524.2,465.8 500,455C475.8,444.2 450,435.2 430,430C410,424.8 398.3,424 380,424C361.7,424 336.7,426.5 320,430C303.3,433.5 291.7,438.8 280,445C268.3,451.2 261.7,462.5 250,467Z"/><path d="M250,467C266.7,467.5 320.8,466.2 350,470C379.2,473.8 396.7,478.3 425,490C453.3,501.7 504.2,531.7 520,540"/><path d="M925,1160C927.5,1183.3 940.8,1256.7 940,1300C939.2,1343.3 932.5,1380 920,1420C907.5,1460 874.2,1520 865,1540"/><path d="M345,420C370.8,405.8 457.5,359.2 500,335C542.5,310.8 576.7,290.8 600,275C623.3,259.2 630.8,250 640,240C649.2,230 643.3,224.2 655,215C666.7,205.8 689.2,194.2 710,185C730.8,175.8 768.3,164.2 780,160"/><path d="M780,160C800,162 863.3,163.7 900,172C936.7,180.3 966.7,192 1000,210C1033.3,228 1066.7,251.7 1100,280C1133.3,308.3 1166.7,343.3 1200,380C1233.3,416.7 1266.7,453.3 1300,500C1333.3,546.7 1375,610 1400,660C1425,710 1438.3,751.7 1450,800C1461.7,848.3 1468.3,900 1470,950C1471.7,1000 1468.3,1060 1460,1100C1451.7,1140 1438.3,1165.8 1420,1190C1401.7,1214.2 1361.7,1235.8 1350,1245"/><path d="M720,190C728.3,190.3 748.3,190.3 770,192C791.7,193.7 820,192.8 850,200C880,207.2 915,217.5 950,235C985,252.5 1041.7,293.3 1060,305"/><path d="M1330,700C1338.3,725 1369.2,800 1380,850C1390.8,900 1393.3,955 1395,1000C1396.7,1045 1395.8,1080 1390,1120C1384.2,1160 1365,1220 1360,1240"/><path d="M1415,955C1414.2,970.8 1415,1017.5 1410,1050C1405,1082.5 1389.2,1133.3 1385,1150"/><path d="M950,1480 1350,1245"/><path d="M985,1415 1340,1220"/><path d="M420,425 770,195"/><path d="M490,440 850,215"/><path d="M560,475 920,255"/><path d="M640,520 1005,300"/><path d="M720,590 1085,375"/><path d="M790,670 1165,455"/><path d="M870,760 1235,550"/><path d="M920,885 1290,670"/><path d="M965,980 1340,770"/><path d="M995,1070 1365,860"/><path d="M1005,1155 1385,950"/><path d="M1010,1260 1390,1060"/><path d="M1000,1345 1370,1150"/><path d="M620,465 760,385"/><path d="M700,510 800,460"/><path d="M760,585 850,535"/><path d="M860,655 880,648"/><path d="M920,760 1085,660"/><path d="M380,800C386.7,797 404.2,783.3 420,782C435.8,780.7 457.5,785.7 475,792C492.5,798.3 504.2,805.3 525,820C545.8,834.7 577.5,855 600,880C622.5,905 644.2,936.7 660,970C675.8,1003.3 688.3,1045 695,1080C701.7,1115 705.8,1151.7 700,1180C694.2,1208.3 676.7,1235.8 660,1250C643.3,1264.2 619.2,1263 600,1265C580.8,1267 554.2,1262.5 545,1262"/><path d="M372,815C370.3,824.2 363.2,845.8 362,870C360.8,894.2 358.7,923.3 365,960C371.3,996.7 384.2,1053.3 400,1090C415.8,1126.7 436.7,1153.3 460,1180C483.3,1206.7 516.7,1235.8 540,1250C563.3,1264.2 590,1262.5 600,1265"/><path d="M358,818 380,805"/><ellipse cx="525.2" cy="1014.3" rx="81.8" ry="48.8" transform="rotate(64.4 525.2 1014.3)"/><path d="M470,905C478.3,905 505,900.8 520,905C535,909.2 548.3,918.3 560,930C571.7,941.7 581.7,956.7 590,975C598.3,993.3 608.3,1019.2 610,1040C611.7,1060.8 601.7,1090 600,1100"/></g><g class="s" transform="translate(1100,540) scale(0.200000)"><ellipse cx="1049.3" cy="826.5" rx="217.2" ry="138.4" transform="rotate(60.6 1049.3 826.5)"/><ellipse cx="1047.1" cy="831.3" rx="168.1" ry="89.4" transform="rotate(60.6 1047.1 831.3)"/></g><g class="s"><path d="M561.6,963C560.7,961.9 558,959 556,956.6C554,954.2 552.1,952.1 549.6,948.6C547.1,945.1 543.3,939.1 540.8,935.8C538.3,932.5 536.9,930.4 534.4,929C531.9,927.6 528.7,927.2 525.6,927.4C522.5,927.6 519.1,929.1 516,930.2C512.9,931.3 510.3,932.5 507.2,934.2C504.1,935.9 499.9,938.5 497.6,940.6C495.3,942.7 494,943.3 493.2,947C492.4,950.7 493,957.8 492.8,963C492.6,968.2 492.8,974.7 492,978.2C491.2,981.7 490,981.9 488,983.8C486,985.7 483,986.7 480,989.4C477,992.1 473.3,995.6 470,1000C466.7,1004.4 462.8,1009.3 460,1016C457.2,1022.7 454.5,1031 453,1040C451.5,1049 450.8,1060 451,1070C451.2,1080 452.2,1090 454,1100C455.8,1110 458.3,1119 462,1130C465.7,1141 470.3,1154.3 476,1166C481.7,1177.7 488.7,1190.7 496,1200C503.3,1209.3 513.3,1215 520,1222C526.7,1229 530.3,1235.3 536,1242C541.7,1248.7 546.7,1256 554,1262C561.3,1268 570.7,1273.5 580,1278C589.3,1282.5 601.7,1286.8 610,1289C618.3,1291.2 623.3,1291.2 630,1291C636.7,1290.8 643.7,1290.2 650,1288C656.3,1285.8 665,1279.7 668,1278"/><path d="M562,963C566,964.7 578,969 586,973C594,977 601,980.8 610,987C619,993.2 630.7,1001.5 640,1010C649.3,1018.5 657.7,1027.3 666,1038C674.3,1048.7 683,1060.3 690,1074C697,1087.7 703.8,1106 708,1120C712.2,1134 713.7,1147.2 715.5,1158C717.3,1168.8 718.3,1180.2 718.9,1184.7"/><path d="M718.9,1184.7C720.2,1186.6 723.2,1192 726.7,1196C730.2,1200 735.7,1204.7 739.7,1209C743.7,1213.3 748.3,1218.1 750.9,1222C753.5,1225.9 754.5,1229.2 755.3,1232.4C756.1,1235.6 756,1238.5 755.7,1241.1C755.4,1243.7 757,1244.5 753.6,1248C750.2,1251.5 739.8,1259 735.3,1261.9C730.8,1264.8 729.6,1265 726.7,1265.3C723.8,1265.6 722.3,1265.4 718,1264C713.7,1262.6 705.9,1259.3 700.7,1256.7C695.5,1254.1 688.2,1250.9 686.8,1248.4C685.3,1245.9 691.1,1242.7 692,1241.5"/><path d="M700.7,1256.7C700,1257.8 698.3,1261.6 696.3,1263.6C694.3,1265.6 693.1,1266.3 688.5,1268.8C683.9,1271.2 671.9,1276.7 668.6,1278.3"/><path d="M686.8,1248.4C686.2,1249.5 685,1251.8 683.3,1254.9C681.6,1258 678.8,1263.1 676.4,1267C674,1270.9 669.9,1276.4 668.6,1278.3"/><path d="M502,1000C499,1002 489,1007.7 484,1012C479,1016.3 475.2,1020.3 472,1026C468.8,1031.7 466.5,1038.7 465,1046C463.5,1053.3 462.8,1061 463,1070C463.2,1079 463.8,1089 466,1100C468.2,1111 472.3,1124.7 476,1136C479.7,1147.3 483.7,1158.3 488,1168C492.3,1177.7 497.3,1186.7 502,1194C506.7,1201.3 511.7,1206.7 516,1212C520.3,1217.3 523,1221 528,1226C533,1231 538.7,1236 546,1242C553.3,1248 563,1256.7 572,1262C581,1267.3 591,1271.7 600,1274C609,1276.3 617.3,1276.7 626,1276C634.7,1275.3 646,1272.7 652,1270C658,1267.3 658.8,1265.3 662,1260C665.2,1254.7 669.5,1241.7 671,1238"/><path d="M538,979C542.7,980.8 557.3,985.5 566,990C574.7,994.5 581,999 590,1006C599,1013 611.3,1023 620,1032C628.7,1041 638.3,1055.3 642,1060"/><path d="M499.2,953C500.1,952.5 502.9,950.4 504.8,950.2C506.7,950 508.8,950.5 510.4,951.8C512,953.1 513.6,956.2 514.4,958.2C515.2,960.2 515.6,961.9 515.2,963.8C514.8,965.7 513.3,968.6 512,969.4C510.7,970.2 508,968.7 507.2,968.6"/><path d="M504.8,949.4C504.9,950.9 504.9,955.7 505.6,958.2C506.3,960.7 507.5,963.3 508.8,964.6C510.1,965.9 512.8,965.9 513.6,966.2"/><path d="M506.8,935 516.4,944.6"/><path d="M538.4,973.4 553.6,966.2"/><path d="M501.2,989.4 511.2,992.2"/><path d="M500.8,982.2 513.6,988.6 521.2,979"/><path d="M502,1208C501.5,1208.7 500.2,1209.3 499,1212C497.8,1214.7 495.3,1219.7 495,1224C494.7,1228.3 495.5,1234 497,1238C498.5,1242 501.2,1245 504,1248C506.8,1251 511.3,1254.7 514,1256C516.7,1257.3 516.7,1257.3 520,1256C523.3,1254.7 531.7,1249.3 534,1248"/><path d="M504,1228C505,1227.7 508,1225.3 510,1226C512,1226.7 514.5,1229.7 516,1232C517.5,1234.3 519.3,1237.8 519,1240C518.7,1242.2 514.8,1244.2 514,1245"/><path d="M522,1228 528,1240"/><path d="M506,1210 520,1220"/><path d="M714.1,1235.9C715.2,1236.3 718.7,1236.9 720.6,1238.5C722.5,1240.1 724.8,1243.1 725.8,1245.4C726.8,1247.7 727.1,1250.6 726.7,1252.3C726.3,1254 724.7,1254.8 723.2,1255.4C721.8,1256.1 718.9,1256.1 718,1256.2"/><path d="M714.1,1240.2C714.5,1241.2 715.1,1244.1 716.3,1246.3C717.5,1248.5 720.1,1251.8 721.5,1253.2C722.9,1254.6 724.3,1254.3 724.9,1254.5"/><path d="M699.8,1193.4 709.8,1187.3"/><path d="M685,1240.2C684.9,1238.3 683.9,1232.1 684.2,1228.9C684.5,1225.7 685.6,1222.8 686.8,1221.1C687.9,1219.4 688.9,1219.7 691.1,1218.5C693.3,1217.3 698.3,1214.6 699.8,1213.8"/><path d="M689.8,1233.3C689.9,1231.7 689.9,1226 690.3,1223.7C690.7,1221.4 691.7,1220.1 692,1219.4"/><path d="M734.9,1247.1 734.9,1261.9"/></g><g class="s" transform="translate(465,1075) scale(0.133333)"><path d="M60,130C63.3,124.2 65,99.2 80,95C95,90.8 125,95.8 150,105C175,114.2 205,132.5 230,150C255,167.5 285,191.7 300,210C315,228.3 320,248.3 320,260C320,271.7 312.5,282.5 300,280C287.5,277.5 254.2,250.8 245,245"/><path d="M115,165C115.8,172.5 102.5,189.2 120,210C137.5,230.8 188.3,265 220,290C251.7,315 294.2,335.8 310,360C325.8,384.2 323.3,423.3 315,435C306.7,446.7 284.2,440 260,430C235.8,420 185,384.2 170,375"/><path d="M120,280C126.7,286.7 141.7,309.2 160,320C178.3,330.8 218.3,340.8 230,345"/><path d="M365,245C370.8,252.5 392.5,267.5 400,290C407.5,312.5 407.5,353.3 410,380C412.5,406.7 410,431.7 415,450C420,468.3 427.5,479.2 440,490C452.5,500.8 481.7,510.8 490,515"/><path d="M505,345C510.8,350.8 530,362.5 540,380C550,397.5 561.7,423.3 565,450C568.3,476.7 565.8,517.5 560,540C554.2,562.5 541.7,576.7 530,585C518.3,593.3 496.7,589.2 490,590"/><path d="M670,460C685,466.7 736.7,486.7 760,500C783.3,513.3 798.3,523.3 810,540C821.7,556.7 826.7,590 830,600"/><path d="M660,625 800,580"/><path d="M725,670C735.8,675 774.2,688.3 790,700C805.8,711.7 813.3,726.7 820,740C826.7,753.3 828.3,773.3 830,780"/><path d="M760,745 800,765"/><path d="M880,580C886.7,583.3 910.8,590 920,600C929.2,610 932.5,620 935,640C937.5,660 930.8,696.7 935,720C939.2,743.3 945.8,763.3 960,780C974.2,796.7 1010,813.3 1020,820"/><path d="M1025,665C1032.5,672.5 1060,690.8 1070,710C1080,729.2 1084.2,755 1085,780C1085.8,805 1082.5,842.5 1075,860C1067.5,877.5 1055,883.3 1040,885C1025,886.7 994.2,872.5 985,870"/><path d="M1170,740 1200,800 1195,850 1300,820 1385,860"/><path d="M1260,905 1390,865"/><path d="M1190,935 1195,975"/><path d="M1260,935 1380,1070"/><path d="M1430,880 1465,895 1470,1120"/></g><g class="s" transform="translate(355,1260) scale(0.066667)"><path d="M100,760C101.7,730 108.3,700 120,680C131.7,660 151.7,645 170,640C188.3,635 208.3,640 230,650C251.7,660 278.3,678.3 300,700C321.7,721.7 343.3,750 360,780C376.7,810 393.3,848.3 400,880C406.7,911.7 405,945 400,970C395,995 383.3,1017.5 370,1030C356.7,1042.5 340,1046.7 320,1045C300,1043.3 275,1035.8 250,1020C225,1004.2 193.3,976.7 170,950C146.7,923.3 121.7,891.7 110,860C98.3,828.3 98.3,790 100,760Z"/><path d="M190,625C211.7,614.2 290,570.8 320,560C350,549.2 351.7,555 370,560C388.3,565 410,575 430,590C450,605 473.3,628.3 490,650C506.7,671.7 518.3,695 530,720C541.7,745 555.8,770 560,800C564.2,830 560,876.7 555,900C550,923.3 534.2,933.3 530,940"/><path d="M300,690 420,620"/><path d="M380,810C385,821.7 406.7,848.3 410,880C413.3,911.7 401.7,980 400,1000"/><path d="M410,880 550,820"/><path d="M420,990 540,930"/><path d="M180,620C185,608.3 195,573.3 210,550C225,526.7 250,496.7 270,480C290,463.3 308.3,455.8 330,450C351.7,444.2 375,441.7 400,445C425,448.3 453.3,455.8 480,470C506.7,484.2 533.3,501.7 560,530C586.7,558.3 618.3,603.3 640,640C661.7,676.7 680.8,713.3 690,750C699.2,786.7 700,825 695,860C690,895 675.8,933.3 660,960C644.2,986.7 623.3,1006.7 600,1020C576.7,1033.3 546.7,1038.3 520,1040C493.3,1041.7 458.3,1035 440,1030C421.7,1025 415,1013.3 410,1010"/><path d="M330,470C341.7,471.7 376.7,470 400,480C423.3,490 455,511.7 470,530C485,548.3 486.7,580 490,590"/><path d="M600,800C605,810 626.7,840 630,860C633.3,880 626.7,903.3 620,920C613.3,936.7 595,953.3 590,960"/><path d="M560,515 1280,95"/><path d="M690,750 1410,330"/><path d="M1280,95C1286.7,95.8 1301.7,87.5 1320,100C1338.3,112.5 1371.7,145 1390,170C1408.3,195 1425,226.7 1430,250C1435,273.3 1423.3,296.7 1420,310C1416.7,323.3 1411.7,326.7 1410,330"/><path d="M635,495Q742.3,563 745,690"/><path d="M735,440Q848.4,508.2 860,640"/><path d="M855,375Q966.1,441.1 975,570"/><path d="M965,310Q1078.4,378.2 1090,510"/><path d="M1080,245Q1191.1,311.1 1200,440"/><path d="M1195,175Q1304.2,242 1310,370"/></g><g class="s"><path d="M453,1269.5 510,1237"/></g><g class="s" transform="translate(770,1270) scale(0.346669)"><path d="M61,777 768,360 790,353 812,360 1410,712 1425,742 712,1168 669,1165 46,805 61,797Z"/><path d="M75,788 686,1137"/><path d="M84,779 505,1021"/><path d="M701,1145 1395,740"/><path d="M144,770 165,757 780,410 800,400 820,408 1232,660 1300,688 1362,721 710,1096Z"/><path d="M157,745 369,628"/><path d="M1236,647 1300,682 1360,716"/><path d="M1118,576 1206,627"/><path d="M1040,935 1080,915"/><path d="M1110,890 1340,760"/></g><g fill="url(#mesh)" stroke="none"><path d="M827,1534 842,1525 865,1514 884,1503 900,1494 926,1481 920,1490 908,1496 902,1502 897,1506 888,1512 884,1520 878,1528 872,1536 871,1552 872,1568 864,1562 846,1550 842,1550Z"/><path d="M1196,1499.7 1202.4,1499.2 1220.5,1506.7 1232.3,1517.3 1232.3,1524.8 1217.3,1534.4 1196,1546.1 1174.7,1558.9 1155.5,1569.6 1140.5,1578.1 1135.2,1580.3 1144.8,1573.9 1148,1565.3 1157.6,1556.8 1166.1,1546.1 1174.7,1537.6 1180,1532.3 1187.5,1529.1 1191.7,1522.7 1193.9,1512 1194.9,1503.5Z"/></g><g class="s" transform="translate(540,1500) scale(0.239998)"><path d="M150,322C157.5,319.7 180,308.3 195,308C210,307.7 232.5,318 240,320"/><path d="M240,320 1380,968"/><path d="M1380,968C1387.5,975 1412.5,992.2 1425,1010C1437.5,1027.8 1448.3,1052.5 1455,1075C1461.7,1097.5 1465.8,1123.3 1465,1145C1464.2,1166.7 1456.7,1187.5 1450,1205C1443.3,1222.5 1433.3,1239.5 1425,1250C1416.7,1260.5 1404.2,1265 1400,1268"/><path d="M1300,975C1311.7,981.7 1351.3,996.7 1370,1015C1388.7,1033.3 1402.3,1060.8 1412,1085C1421.7,1109.2 1426.7,1138.3 1428,1160C1429.3,1181.7 1421.3,1205.8 1420,1215"/><path d="M185,352 1300,975"/><path d="M250,370 580,555"/><path d="M150,322C142.5,325.8 116.3,333.7 105,345C93.7,356.3 86.2,370.8 82,390C77.8,409.2 75.7,435 80,460C84.3,485 103.3,526.7 108,540"/><path d="M108,540 350,930"/><path d="M95,420C99.2,410.8 108.3,377.5 120,365C131.7,352.5 157.5,348.3 165,345"/><path d="M148,372C150,385 146.7,408.7 160,450C173.3,491.3 216.7,591.7 228,620"/><path d="M350,930 1010,1305"/><path d="M1010,1305C1015.8,1309.5 1033.3,1327.8 1045,1332C1056.7,1336.2 1074.2,1330.3 1080,1330"/><path d="M1080,1330 1400,1268"/><path d="M1040,1300 1395,1240"/><path d="M660,1070 1035,1280"/><path d="M1395,1240C1397.8,1237.5 1407.8,1229.2 1412,1225C1416.2,1220.8 1418.7,1216.7 1420,1215"/><path d="M230,425 270,415 295,450 305,490 290,520 270,525 240,500 228,460Z"/><path d="M860,1060 890,1045 930,1080 955,1140 945,1185 905,1190 870,1150 852,1100Z"/><path d="M1010,1180C1011.7,1175 1011.7,1157.5 1020,1150C1028.3,1142.5 1047.5,1132.5 1060,1135C1072.5,1137.5 1085.8,1151.7 1095,1165C1104.2,1178.3 1111.7,1206.7 1115,1215"/><path d="M1010,1180C1013.3,1188.3 1024.2,1218.3 1030,1230C1035.8,1241.7 1042.5,1246.7 1045,1250"/><path d="M1300,1070 1330,1050 1360,1080 1375,1130 1350,1165 1310,1150 1290,1100Z"/><path d="M1300,1120 1120,1225"/><path d="M1030,1290 790,1420"/></g><g class="s" transform="translate(640,1830) scale(0.066667)"><path d="M60,660C69.2,635 91.7,605 110,590C128.3,575 146.7,568.3 170,570C193.3,571.7 223.3,581.7 250,600C276.7,618.3 305,650 330,680C355,710 383.3,746.7 400,780C416.7,813.3 428.3,845 430,880C431.7,915 421.7,963.3 410,990C398.3,1016.7 378.3,1030 360,1040C341.7,1050 323.3,1055 300,1050C276.7,1045 246.7,1030 220,1010C193.3,990 163.3,960 140,930C116.7,900 94.2,861.7 80,830C65.8,798.3 58.3,768.3 55,740C51.7,711.7 50.8,685 60,660Z"/><path d="M180,545C203.3,530.8 283.3,472.5 320,460C356.7,447.5 376.7,461.7 400,470C423.3,478.3 440,493.3 460,510C480,526.7 500,541.7 520,570C540,598.3 565,643.3 580,680C595,716.7 605.8,756.7 610,790C614.2,823.3 611.7,856.7 605,880C598.3,903.3 575.8,921.7 570,930"/><path d="M290,620 450,525"/><path d="M300,625 320,660"/><path d="M400,770C405,783.3 426.7,813.3 430,850C433.3,886.7 421.7,966.7 420,990"/><path d="M430,860 610,780"/><path d="M450,1000 570,930"/><path d="M160,540C166.7,520 176.7,455 200,420C223.3,385 266.7,348.3 300,330C333.3,311.7 370,310 400,310C430,310 453.3,318.3 480,330C506.7,341.7 531.7,356.7 560,380C588.3,403.3 621.7,433.3 650,470C678.3,506.7 710,558.3 730,600C750,641.7 761.7,681.7 770,720C778.3,758.3 785,795 780,830C775,865 758.3,900 740,930C721.7,960 696.7,991.7 670,1010C643.3,1028.3 611.7,1036.7 580,1040C548.3,1043.3 505,1035 480,1030C455,1025 438.3,1013.3 430,1010"/><path d="M330,350C345,351.7 391.7,348.3 420,360C448.3,371.7 480,398.3 500,420C520,441.7 533.3,478.3 540,490"/><path d="M680,740C683.3,750 698.3,773.3 700,800C701.7,826.7 700,866.7 690,900C680,933.3 648.3,983.3 640,1000"/><path d="M620,410 1100,130"/><path d="M770,690 1250,410"/><path d="M1100,130C1110,131.7 1138.3,126.7 1160,140C1181.7,153.3 1212.5,183.3 1230,210C1247.5,236.7 1260,268.3 1265,300C1270,331.7 1262.5,381.7 1260,400C1257.5,418.3 1251.7,408.3 1250,410"/><path d="M700,375Q847,453.8 860,620"/><path d="M850,300Q989.8,385.9 990,550"/><path d="M970,215Q1122.3,304.3 1140,480"/></g><g class="s"><path d="M729,1842 774,1815 788,1808"/></g><g transform="translate(1290,1930) scale(0.08)"><path d="M265,230 315,200 850,480 860,445 900,428 1160,855 1145,885 850,1020 840,925 265,590Z" fill="#000"/><path d="M310,224 845,505" stroke="#fff" stroke-width="22" fill="none"/><path d="M885,452 1138,868" stroke="#fff" stroke-width="22" fill="none"/></g><text x="0" y="0" transform="translate(1317,1975) skewY(28)" font-size="26" textLength="42" lengthAdjust="spacingAndGlyphs" style="fill:none;stroke:#fff;stroke-width:1.6">FWD</text>
<text x="0.2" y="55.3" font-size="61" font-weight="bold" textLength="111.81" lengthAdjust="spacingAndGlyphs">FIG.</text><text x="144.7" y="55.3" font-size="61" font-weight="bold" textLength="30.54" lengthAdjust="spacingAndGlyphs">3</text><path d="M134,55.3H125.3V29.5L116,32.5V24.5Q122.5,21.5 125,13.3H134Z" fill="#000"/><text x="598.6" y="2163.3" font-size="28.6" textLength="301.97" lengthAdjust="spacingAndGlyphs">Rendered by LeadVenture, Inc.</text>
<path d="M0,0H-2.9V-18L-7.8,-14.8L-8.1,-16.9L-1,-22.8H0Z" transform="translate(513.5,163)" fill="#000"/><text x="331.4" y="254.7" class="lb">3</text><text x="225.3" y="357" class="lb">2</text><text x="301.9" y="375" class="lb">4</text><text x="145.9" y="657" class="lb">4</text><text x="89" y="680.7" class="lb">5</text><text x="362.2" y="656.7" class="lb">6</text><text x="440.3" y="674.7" class="lb">9</text><text x="564.3" y="623.7" class="lb">8</text><text x="210.3" y="1045" class="lb">9</text><text x="353.8" y="1071" class="lb">7</text><path d="M0,0H-2.9V-18L-7.8,-14.8L-8.1,-16.9L-1,-22.8H0Z" transform="translate(790.1,786.4)" fill="#000"/><text x="795.1" y="786.1" class="lb">6</text><path d="M0,0H-2.9V-18L-7.8,-14.8L-8.1,-16.9L-1,-22.8H0Z" transform="translate(976.1,1037)" fill="#000"/><text x="981.3" y="1037" class="lb">7</text><path d="M0,0H-2.9V-18L-7.8,-14.8L-8.1,-16.9L-1,-22.8H0Z" transform="translate(1187.6,583)" fill="#000"/><text x="1193.6" y="582.7" class="lb">3</text><path d="M0,0H-2.9V-18L-7.8,-14.8L-8.1,-16.9L-1,-22.8H0Z" transform="translate(1290.1,596)" fill="#000"/><text x="1294.6" y="596" class="lb">4</text><path d="M0,0H-2.9V-18L-7.8,-14.8L-8.1,-16.9L-1,-22.8H0Z" transform="translate(1001.7,1310)" fill="#000"/><text x="1005.9" y="1309.7" class="lb">0</text><path d="M0,0H-2.9V-18L-7.8,-14.8L-8.1,-16.9L-1,-22.8H0Z" transform="translate(597.1,1396)" fill="#000"/><text x="603" y="1395.7" class="lb">5</text><path d="M0,0H-2.9V-18L-7.8,-14.8L-8.1,-16.9L-1,-22.8H0Z" transform="translate(373.1,1417)" fill="#000"/><text x="379.1" y="1416.7" class="lb">8</text><path d="M0,0H-2.9V-18L-7.8,-14.8L-8.1,-16.9L-1,-22.8H0Z" transform="translate(670.5,1539.6)" fill="#000"/><path d="M0,0H-2.9V-18L-7.8,-14.8L-8.1,-16.9L-1,-22.8H0Z" transform="translate(690,1539.6)" fill="#000"/><path d="M0,0H-2.9V-18L-7.8,-14.8L-8.1,-16.9L-1,-22.8H0Z" transform="translate(678.1,1986)" fill="#000"/><text x="684.3" y="1986" class="lb">2</text>
</svg></body></html>
